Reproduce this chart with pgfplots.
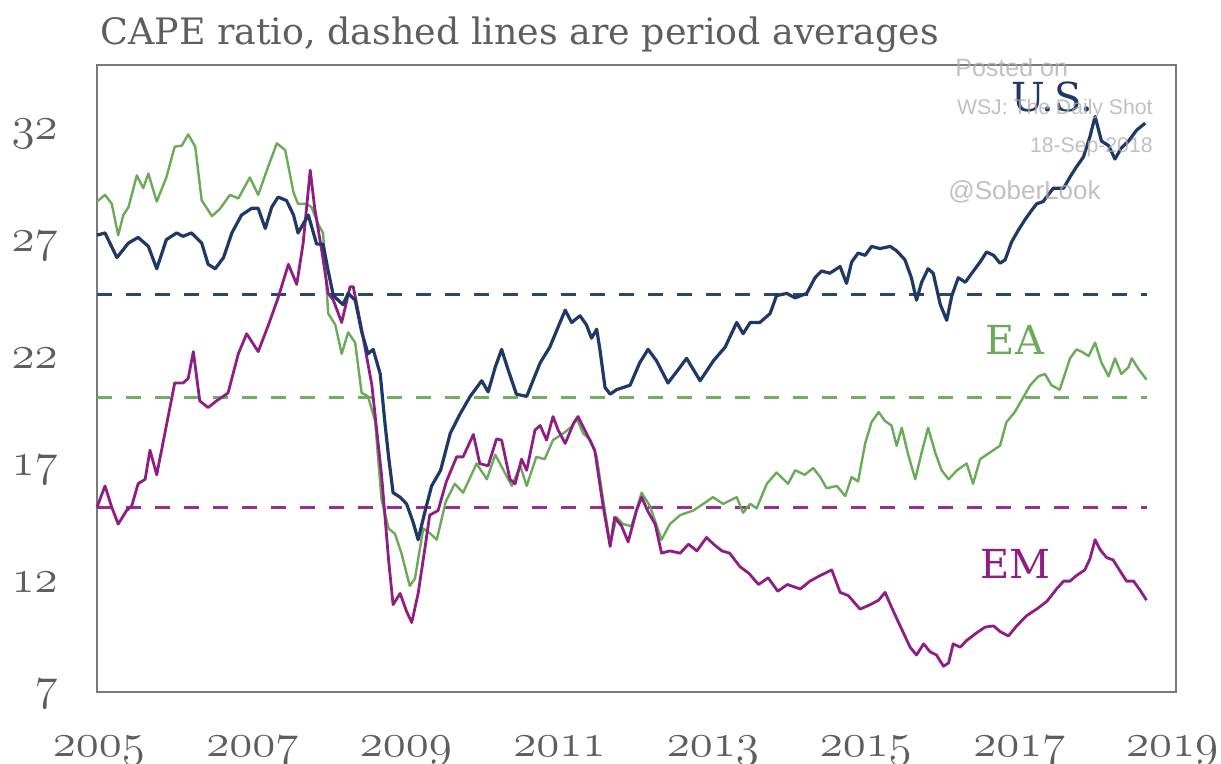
\RequirePackage{fix-cm}
\documentclass[border=0pt]{standalone}
\usepackage{pgfplots}
\pgfplotsset{compat=1.18}
\usepackage{fontspec}
\newfontfamily\serifG{DejaVu Serif}
\newfontfamily\sansW{Liberation Sans}
\definecolor{usnavy}{HTML}{1F3866}
\definecolor{eagreen}{HTML}{6AAA58}
\definecolor{empurp}{HTML}{8E1E84}
\definecolor{usdash}{HTML}{2A4674}
\definecolor{eadash}{HTML}{72AE62}
\definecolor{emdash}{HTML}{9A2E90}
\definecolor{framegray}{HTML}{7A7A7A}
\definecolor{txtgray}{HTML}{5E5E5E}
\definecolor{wmgray}{HTML}{ABABAB}

\pgfplotstableread{
x y
0 27.4
1.25 27.5
3.1 26.4
4.9 27.05
6.4 27.3
8 26.9
9.3 25.9
10.8 27.2
12.4 27.5
13.4 27.35
14.7 27.5
16.3 27.05
17.3 26.1
18.4 25.9
19.7 26.4
21 27.5
22.5 28.3
24.1 28.6
25.1 28.6
26.2 27.7
27.2 28.65
28.2 29.1
29.5 28.95
30.6 28.3
31.3 27.5
32.9 28.3
34.2 27.0
35.2 27.0
36 25.8
36.8 24.7
38.3 24.3
39.1 24.8
40.2 24.5
41.2 23.1
42.2 22.1
43 22.3
44.1 21.2
44.8 19.1
45.4 17.5
46.1 15.9
47.2 15.7
48.2 15.4
49.2 14.6
50 13.8
51.1 15.1
52.1 16.2
53.5 16.9
55 18.55
56.5 19.4
58.1 20.2
59.9 20.9
60.9 20.4
62 21.5
63 22.3
64 21.4
65.3 20.3
66.9 20.2
69 21.7
70.5 22.4
71.8 23.3
72.9 24.05
73.9 23.5
75.2 23.8
76.2 23.4
77 22.8
77.8 23.2
78.3 22.3
79.1 20.6
79.9 20.3
80.9 20.5
83 20.7
84.5 21.7
85.8 22.3
87.1 21.8
88.9 20.8
90.5 21.4
91.8 21.9
93.9 20.9
96 21.8
97.8 22.4
99.6 23.5
100.6 23.0
101.7 23.5
103.2 23.5
104.8 23.9
105.8 24.7
107.4 24.8
108.7 24.6
110.5 24.8
111.8 25.5
112.8 25.8
114.1 25.7
115.7 26.0
116.7 25.25
117.5 26.2
118.5 26.6
119.6 26.5
120.6 26.9
121.9 26.8
123.5 26.9
124.5 26.7
125.8 26.3
126.8 25.5
127.6 24.5
128.4 25.3
129.4 25.9
130.2 25.7
131.3 24.3
132.3 23.6
133.1 24.7
134.1 25.5
135.2 25.3
136.2 25.7
137.5 26.2
138.5 26.65
139.6 26.5
140.6 26.15
141.4 26.3
142.4 27.1
143.4 27.6
144.5 28.1
145.5 28.5
146.3 28.8
147.3 28.9
148.9 29.5
150.5 29.5
151.5 30.0
152.5 30.45
153.6 30.9
154.6 31.8
155.4 32.7
156.4 31.6
157.5 31.4
158.5 30.8
159.5 31.3
160.6 31.6
161.9 32.1
163.2 32.4
}\usdata

\pgfplotstableread{
x y
0 28.9
1.25 29.2
2.3 28.8
3.3 27.4
4.1 28.3
4.9 28.65
6.2 30.07
7.2 29.5
8 30.15
9.3 28.9
10.8 29.98
12.1 31.35
13.2 31.4
14.2 31.9
15.3 31.35
16.3 28.96
17.9 28.25
19.1 28.56
20.7 29.2
22 29.04
23.8 29.98
25.1 29.2
26.7 30.5
28 31.5
29.3 31.2
30.6 29.3
31.3 28.8
32.6 28.8
33.4 28.65
34.5 27.85
35.2 27.5
36 23.9
37.1 23.4
38.1 22.1
39.1 23.06
40.2 22.6
41.2 20.36
42.2 20.2
43.3 19.1
44.3 15.6
45.4 14.3
46.4 14.06
47.4 13.2
48.7 11.74
49.5 12.06
50.8 14.3
51.8 14.1
52.9 13.8
54.3 15.5
55.7 16.3
57 15.9
59.1 17.2
60.7 16.5
62 17.6
63.3 16.9
64.6 16.2
65.9 17.1
66.9 16.2
68.4 17.5
69.7 17.4
71 18.25
72.6 18.55
73.9 18.85
74.7 19.2
75.7 18.55
76.8 18.25
77.8 17.5
78.8 15.6
79.9 13.6
80.9 14.8
81.9 14.5
83.2 14.4
84.8 15.9
86.1 15.3
87.9 13.8
89.2 14.5
90.8 14.9
92.8 15.1
94.4 15.4
95.9 15.7
97.5 15.4
99.6 15.7
100.6 15.0
101.7 15.4
102.7 15.2
104.3 16.3
105.8 16.8
107.6 16.3
108.7 16.9
110.2 16.7
111.5 17.0
112.6 16.6
113.6 16.1
115.2 16.2
116.5 15.75
117.5 16.6
118.5 16.4
119.6 18.1
120.6 19.05
121.7 19.5
122.7 19.1
123.7 18.9
124.5 18.0
125.3 18.8
126.3 17.6
127.4 16.5
128.4 17.7
129.4 18.8
130.5 17.7
131.5 16.9
132.6 16.5
133.9 16.9
135.4 17.2
136.4 16.3
137.5 17.4
138.8 17.65
140.6 18.0
141.6 19.05
142.9 19.5
144 20.05
145.3 20.7
146.6 21.1
147.6 21.2
148.6 20.7
149.9 20.5
150.7 21.2
151.5 21.9
152.5 22.3
153.3 22.2
154.4 22.0
155.4 22.6
156.4 21.7
157.5 21.1
158.5 21.9
159.5 21.2
160.6 21.5
161.1 21.9
162.1 21.45
163.4 20.95
}\eadata

\pgfplotstableread{
x y
0 15.25
1.25 16.2
2.3 15.25
3.3 14.5
4.6 15.1
5.4 15.3
6.4 16.3
7.5 16.5
8.25 17.8
9.3 16.7
10.6 18.6
12.1 20.8
13.4 20.8
14.2 21.0
15 22.2
16 20.0
17.3 19.7
18.6 20.0
20.4 20.35
22 22.1
23.3 23.0
25.1 22.2
26.7 23.4
28.2 24.6
29.8 26.1
31.1 25.2
32.1 27.05
33.2 30.3
33.9 28.6
35 26.7
36 24.8
36.8 24.5
38.1 23.5
39.4 25.1
39.9 25.1
41.2 23.2
42.8 20.7
44.3 16.7
45.4 12.9
46.1 10.9
47.2 11.4
48.2 10.6
49 10.1
50 11.4
51.1 13.5
51.8 14.9
53.1 15.1
54.4 16.4
56 17.5
57 17.5
58.6 18.5
59.6 17.2
60.9 17.1
62.2 18.3
63 18.25
64.3 16.5
65.1 16.3
66.1 17.4
66.9 16.9
68.2 18.7
69 18.9
70 18.25
71 19.3
71.8 18.7
72.9 18.1
74.2 19.0
74.9 19.3
76.2 18.55
77.5 17.8
78.8 15.3
79.9 13.5
80.6 14.8
81.7 14.4
82.7 13.7
84 15.1
84.8 15.7
85.8 15.05
86.9 14.5
87.9 13.2
89.2 13.3
90.8 13.2
92.1 13.6
93.4 13.3
94.9 13.9
96 13.6
97.3 13.3
98.5 13.2
100.1 12.6
101.5 12.3
103 11.8
104.5 12.1
106 11.5
107.5 11.8
109.5 11.6
111 11.95
112.6 12.2
114.4 12.45
115.7 11.45
117 11.3
118.8 10.7
120.4 10.9
121.7 11.1
122.7 11.45
124 10.6
125.3 9.8
126.6 9.0
127.6 8.65
128.7 9.15
129.7 8.8
130.7 8.65
131.8 8.15
132.6 8.3
133.3 9.15
134.4 9.0
135.4 9.3
137 9.65
138.3 9.9
139.6 9.95
140.6 9.7
141.9 9.5
143.2 9.95
144.7 10.4
146.3 10.7
147.9 11.05
149.4 11.6
150.5 11.95
151.5 11.95
152.5 12.2
153.8 12.45
154.6 12.95
155.4 13.8
156.2 13.35
157.2 13.0
158.2 12.9
159.3 12.4
160.3 11.95
161.4 11.95
162.4 11.55
163.4 11.1
}\emdata

\newcommand{\tkf}{\fontsize{23.5}{27}\selectfont\color{txtgray}}
\newcommand{\osn}[1]{$\mathnormal{#1}$}

\begin{document}
\begin{tikzpicture}
\path[use as bounding box] (0pt,0pt) rectangle (610.5pt,382pt);
\begin{axis}[
  at={(48.5pt,36pt)}, anchor=south west,
  width=539.5pt, height=313.5pt, scale only axis,
  xmin=0, xmax=168, ymin=7, ymax=35,
  axis line style={draw=framegray, line width=1.3pt},
  tick style={draw=none}, major tick length=0pt,
  xtick={0.3,24.2,48.1,72,95.9,119.7,143.6,167.4},
  xticklabels={\osn{2005},\osn{2007},\osn{2009},\osn{2011},\osn{2013},\osn{2015},\osn{2017},\osn{2019}},
  ytick={7,12,17,22,27,32},
  yticklabels={\osn{7},\osn{12},\osn{17},\osn{22},\osn{27},\osn{32}},
  xticklabel style={font=\tkf, anchor=base, yshift=-32.5pt, inner sep=0pt},
  yticklabel style={font=\tkf, anchor=east, xshift=-19.5pt, yshift=-1pt, inner sep=0pt},
  no markers,
  clip=false,
]
\addplot[usdash, line width=1.5pt, dash pattern=on 7.5pt off 7pt] coordinates {(0,24.75) (163.5,24.75)};
\addplot[eadash, line width=1.5pt, dash pattern=on 7.5pt off 7pt] coordinates {(0,20.13) (163.5,20.13)};
\addplot[emdash, line width=1.5pt, dash pattern=on 7.5pt off 7pt] coordinates {(0,15.26) (163.5,15.26)};
\addplot[eagreen, line width=1.2pt, line join=round] table[x=x,y=y] {\eadata};
\addplot[empurp, line width=1.4pt, line join=round] table[x=x,y=y] {\emdata};
\addplot[usnavy, line width=1.6pt, line join=round] table[x=x,y=y] {\usdata};
\end{axis}
\node[anchor=base west, inner sep=0pt, text=txtgray, font=\serifG\fontsize{18.2}{21}\selectfont] at (50pt,359.5pt) {CAPE ratio, dashed lines are period averages};
\node[anchor=base, inner sep=0pt, text=usnavy, font=\serifG\fontsize{20}{24}\selectfont] at (526.25pt,326pt) {U.S.};
\node[anchor=base, inner sep=0pt, text=eagreen, font=\serifG\fontsize{20}{24}\selectfont] at (507.5pt,204.5pt) {EA};
\node[anchor=base, inner sep=0pt, text=empurp, font=\serifG\fontsize{20}{24}\selectfont] at (507.75pt,92.5pt) {EM};
\begin{scope}[opacity=0.75]
\node[anchor=base west, inner sep=0pt, text=wmgray, font=\sansW\fontsize{12.5}{14}\selectfont] at (477.5pt,343.5pt) {Posted on};
\node[anchor=base east, inner sep=0pt, text=wmgray, font=\sansW\fontsize{10.6}{12}\selectfont] at (576.5pt,324.5pt) {WSJ: The Daily Shot};
\node[anchor=base east, inner sep=0pt, text=wmgray, font=\sansW\fontsize{10.6}{12}\selectfont] at (576.5pt,305.5pt) {18-Sep-2018};
\node[anchor=base west, inner sep=0pt, text=wmgray, font=\sansW\fontsize{13}{15}\selectfont] at (474pt,282pt) {@SoberLook};
\end{scope}
\end{tikzpicture}
\end{document}
